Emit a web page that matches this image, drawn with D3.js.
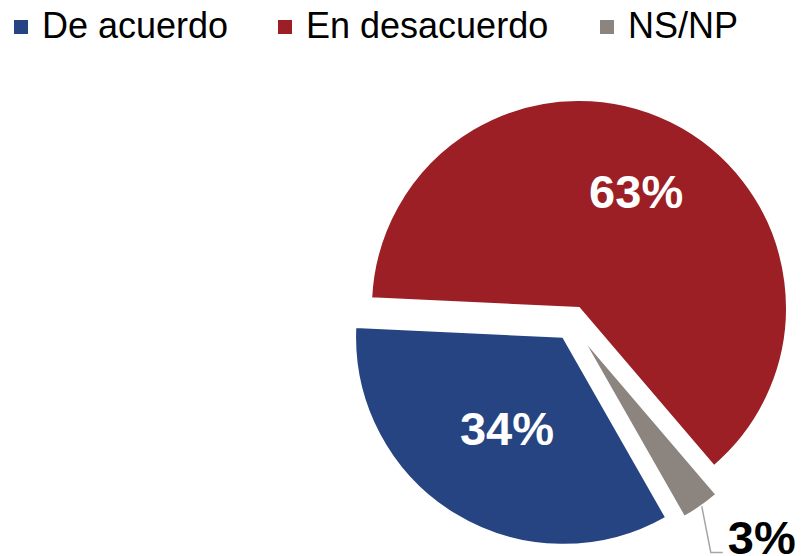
<!DOCTYPE html>
<html>
<head>
<meta charset="utf-8">
<script src="https://cdn.jsdelivr.net/npm/d3@7"></script>
<style>
  body { margin: 0; background: #fff; }
  svg { display: block; font-family: "Liberation Sans", Arial, sans-serif; }
</style>
</head>
<body>
<svg id="chart" width="802" height="556"></svg>
<script>
var categories = ["De acuerdo", "En desacuerdo", "NS/NP"];
var values = [34, 63, 3];
var labels = ["34%", "63%", "3%"];
var colors = ["#264481", "#9b1f24", "#8c847f"];

var w = 802, h = 556;
var cx = 571.7, cy = 322.8;   // pie centre before explosion
var r = 208;
var explode = 16.5;
var labelR = [107.5, 130, 0];   // label distance per slice (gray is outside)

var svg = d3.select("#chart");

// legend
var legendX = [14, 278, 600];
var legend = svg.append("g");
categories.forEach(function (c, i) {
    legend.append("rect")
        .attr("x", legendX[i]).attr("y", 20)
        .attr("width", 14).attr("height", 14)
        .attr("fill", colors[i]);
    legend.append("text")
        .attr("x", legendX[i] + 28).attr("y", 38)
        .attr("font-size", 36)
        .attr("fill", "#000")
        .text(c);
});

var pie = d3.pie()
    .sort(null)
    .startAngle(150.3 * Math.PI / 180)
    .endAngle(510.3 * Math.PI / 180);

var arcs = pie(values);
var arc = d3.arc().innerRadius(0).outerRadius(r);

function offset(d, dist) {
    var a = (d.startAngle + d.endAngle) / 2;
    return [Math.sin(a) * dist, -Math.cos(a) * dist];
}

var slices = svg.append("g");
arcs.forEach(function (d, i) {
    var o = offset(d, explode);
    var g = slices.append("g")
        .attr("transform", "translate(" + (cx + o[0]) + "," + (cy + o[1]) + ")");
    g.append("path")
        .attr("d", arc(d))
        .attr("fill", colors[i])
        .attr("stroke", "#fff")
        .attr("stroke-width", 2)
        .attr("stroke-linejoin", "miter");

    if (labelR[i] > 0) {
        var c = d3.arc().innerRadius(labelR[i]).outerRadius(labelR[i]).centroid(d);
        g.append("text")
            .attr("x", c[0]).attr("y", c[1])
            .attr("dy", "0.36em")
            .attr("text-anchor", "middle")
            .attr("font-size", 47)
            .attr("font-weight", "bold")
            .attr("fill", "#fff")
            .text(labels[i]);
    } else {
        // outside label with leader line
        var p = d3.arc().innerRadius(r).outerRadius(r).centroid(d);
        var x0 = p[0] + 1, y0 = p[1];
        var x1 = x0 + 9, y1 = y0 + 46;
        var x2 = x1 + 12;
        g.append("polyline")
            .attr("points", [[x0, y0], [x1, y1], [x2, y1]].map(function (q) { return q.join(","); }).join(" "))
            .attr("fill", "none")
            .attr("stroke", "#a6a6a6")
            .attr("stroke-width", 1.5);
        g.append("text")
            .attr("x", x2 + 5).attr("y", y1 + 1.5)
            .attr("font-size", 47)
            .attr("font-weight", "bold")
            .attr("fill", "#000")
            .text(labels[i]);
    }
});
</script>
</body>
</html>
